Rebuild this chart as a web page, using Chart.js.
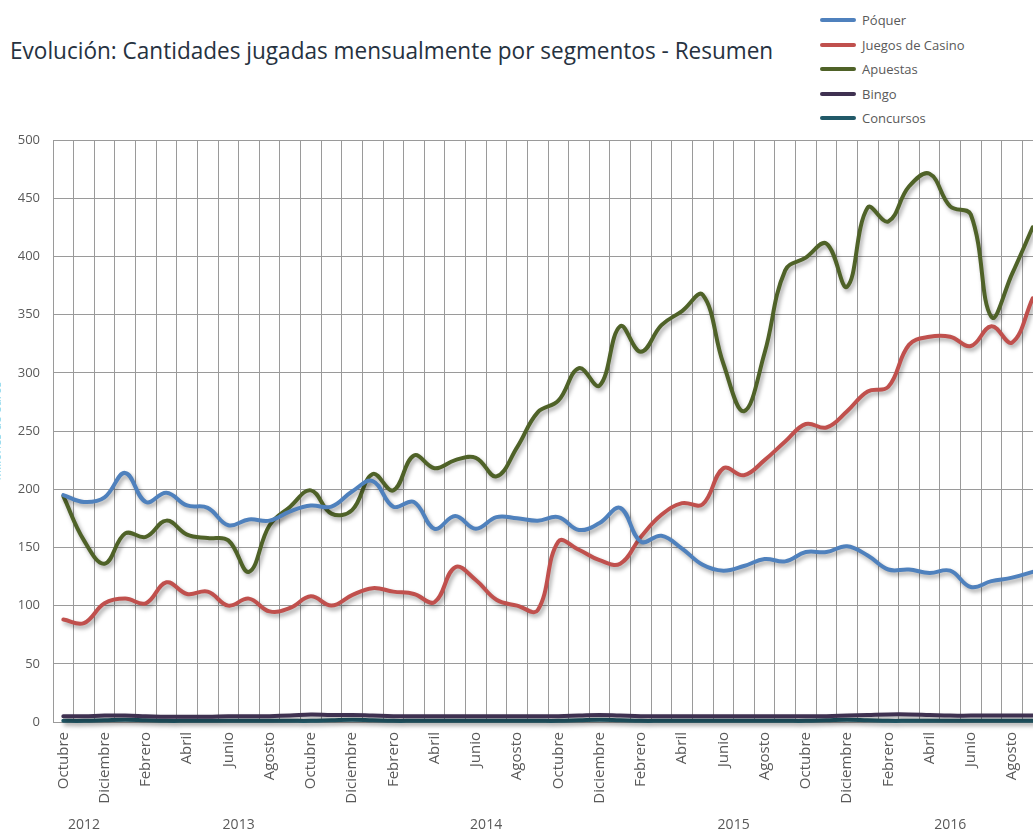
<!DOCTYPE html>
<html lang="es">
  <head>
    <meta charset="UTF-8" />
    <meta name="viewport" content="width=device-width, initial-scale=1.0" />
    <script src="https://cdn.jsdelivr.net/npm/chart.js@4.4.1/dist/chart.umd.min.js"></script>
    <title>Evolución: Cantidades jugadas mensualmente por segmentos</title>
    <style>
      body {
        margin: 0;
        width: 1033px;
        height: 835px;
        overflow: hidden;
        position: relative;
        background: #fff;
        font-family: "Open Sans", sans-serif;
      }
      .chart_title {
        position: absolute;
        left: 10px;
        top: 33px;
        margin: 0;
        font-size: 24px;
        font-weight: normal;
        color: #26323f;
        white-space: nowrap;
        transform: scaleX(0.94);
        transform-origin: left top;
      }
      .legend_wrap {
        position: absolute;
        left: 820px;
        top: 8px;
        margin: 0;
        padding: 0;
        list-style: none;
      }
      .legend_wrap li {
        height: 24.5px;
        display: flex;
        align-items: center;
        font-size: 13px;
        color: #595959;
      }
      .legend_wrap .swatch {
        width: 36px;
        height: 4px;
        border-radius: 2px;
        margin-right: 6px;
      }
      .chart_wrap {
        position: absolute;
        left: 0;
        top: 0;
        width: 1043px;
        height: 835px;
      }
    </style>
  </head>
  <body>
    <h1 class="chart_title">Evolución: Cantidades jugadas mensualmente por segmentos - Resumen</h1>
    <ul class="legend_wrap" id="legend"></ul>
    <div class="chart_wrap">
      <canvas id="myChart"></canvas>
    </div>

    <script>
      // meses (octubre 2012 - septiembre 2016)
      const monthNames = ["Enero", "Febrero", "Marzo", "Abril", "Mayo", "Junio", "Julio", "Agosto", "Septiembre", "Octubre", "Noviembre", "Diciembre"];
      const firstYear = 2012;
      const firstMonth = 9; // octubre
      const monthCount = 48;
      const yTicks = [0, 50, 100, 150, 200, 250, 300, 350, 400, 450, 500];

      const seriesNames = ["Póquer", "Juegos de Casino", "Apuestas", "Bingo", "Concursos"];
      const seriesColors = ["#4f81bd", "#c0504d", "#4f6228", "#3f3151", "#215968"];

      const poquer = [195, 189, 193, 214, 189, 197, 186, 184, 169, 174, 173, 181,
        186, 185, 198, 207, 185, 189, 166, 177, 166, 176, 175, 173,
        176, 165, 171, 184, 155, 160, 149, 135, 130, 134, 140, 138,
        146, 146, 151, 143, 131, 131, 128, 130, 116, 121, 124, 129];
      const casino = [88, 85, 102, 106, 102, 120, 110, 112, 100, 106, 95, 98,
        108, 100, 109, 115, 112, 110, 103, 133, 122, 105, 100, 96,
        155, 148, 139, 136, 159, 178, 188, 187, 218, 212, 225, 241,
        256, 253, 267, 284, 288, 324, 331, 331, 323, 340, 326, 364];
      const apuestas = [194, 156, 136, 162, 159, 173, 161, 158, 156, 129, 169, 185,
        199, 179, 182, 213, 199, 229, 218, 225, 227, 211, 236, 266,
        276, 304, 289, 340, 318, 341, 353, 367, 308, 267, 317, 388,
        399, 411, 374, 442, 430, 460, 471, 443, 436, 348, 385, 425];
      const bingo = [5, 5, 5.5, 5.5, 5, 4.5, 4.5, 4.5, 5, 5, 5, 5.5,
        6.5, 6, 6, 5.5, 5, 5, 5, 5, 5, 5, 5, 5,
        5, 5.5, 6, 5.5, 5, 5, 5, 5, 5, 5, 5, 5,
        5, 5, 5.5, 6, 6.5, 6.5, 6, 5.5, 5.5, 5.5, 5.5, 5.5];
      const concursos = [1, 1, 1.5, 2, 1.5, 1, 1, 1, 1, 1, 1, 1,
        1, 1.5, 2, 1.5, 1, 1, 1, 1, 1, 1, 1, 1,
        1, 1.5, 2, 1.5, 1, 1, 1, 1, 1, 1, 1, 1,
        1, 1.5, 2, 1.5, 1, 1, 1, 1, 1, 1, 1, 1];
      const seriesData = [poquer, casino, apuestas, bingo, concursos];

      const labels = [];
      const years = [];
      for (let i = 0; i < monthCount; i++) {
        const m = firstMonth + i;
        labels.push(monthNames[m % 12]);
        years.push(firstYear + Math.floor(m / 12));
      }

      // leyenda
      const legendEl = document.getElementById("legend");
      seriesNames.forEach((name, i) => {
        const li = document.createElement("li");
        li.innerHTML = '<span class="swatch" style="background:' + seriesColors[i] + '"></span>' + name;
        legendEl.appendChild(li);
      });

      Chart.defaults.font.family = '"Open Sans", sans-serif';

      // sombra de las líneas
      const lineShadow = {
        id: "lineShadow",
        beforeDatasetsDraw(chart) {
          const c = chart.ctx;
          c.save();
          c.shadowColor = "rgba(0,0,0,0.35)";
          c.shadowBlur = 4;
          c.shadowOffsetX = 2;
          c.shadowOffsetY = 3;
        },
        afterDatasetsDraw(chart) {
          chart.ctx.restore();
        },
      };

      // años debajo de los meses
      const yearLabels = {
        id: "yearLabels",
        afterDraw(chart) {
          const c = chart.ctx;
          const xs = chart.scales.x;
          const half = (xs.getPixelForValue(1) - xs.getPixelForValue(0)) / 2;
          c.save();
          c.font = '14px "Open Sans", sans-serif';
          c.fillStyle = "#595959";
          c.textAlign = "center";
          c.textBaseline = "middle";
          let start = 0;
          for (let i = 1; i <= years.length; i++) {
            if (i === years.length || years[i] !== years[start]) {
              const x1 = xs.getPixelForValue(start) - half;
              const x2 = xs.getPixelForValue(i - 1) + half;
              c.fillText(String(years[start]), (x1 + x2) / 2, 825);
              start = i;
            }
          }
          c.restore();
        },
      };

      const data = {
        labels: labels,
        datasets: seriesNames.map((name, i) => ({
          label: name,
          data: seriesData[i],
          borderColor: seriesColors[i],
          backgroundColor: seriesColors[i],
          borderWidth: 4,
          pointRadius: 0,
          tension: 0.4,
          borderCapStyle: "round",
          borderJoinStyle: "round",
          clip: false,
        })),
      };

      const config = {
        type: "line",
        data: data,
        options: {
          responsive: true,
          maintainAspectRatio: false,
          animation: false,
          layout: { padding: { top: 140, left: 0, right: 0, bottom: 0 } },
          plugins: {
            legend: { display: false },
            title: { display: false },
            tooltip: { enabled: false },
          },
          scales: {
            x: {
              offset: true,
              grid: { offset: true, color: "#9a9a9a", lineWidth: 1, drawTicks: false },
              border: { display: false },
              ticks: {
                autoSkip: false,
                minRotation: 90,
                maxRotation: 90,
                padding: 10,
                color: "#595959",
                font: { size: 15 },
                callback: (v, i) => (i % 2 === 0 ? labels[i] : ""),
              },
              afterFit: (s) => {
                s.height = 113;
                s.paddingLeft = 0;
                s.paddingRight = 0;
              },
            },
            y: {
              min: 0,
              max: 500,
              afterBuildTicks: (s) => {
                s.ticks = yTicks.map((v) => ({ value: v }));
              },
              grid: { color: "#9a9a9a", lineWidth: 1, drawTicks: false },
              border: { display: true, color: "#9a9a9a" },
              ticks: { padding: 13, color: "#595959", font: { size: 13 } },
              title: {
                display: true,
                text: "Millones de euros",
                color: "#8fd8ec",
                font: { size: 12 },
                padding: { top: -10, bottom: 0 },
              },
              afterFit: (s) => {
                s.width = 53;
              },
            },
          },
        },
        plugins: [lineShadow, yearLabels],
      };

      const myChart = new Chart(document.getElementById("myChart"), config);
    </script>
  </body>
</html>
